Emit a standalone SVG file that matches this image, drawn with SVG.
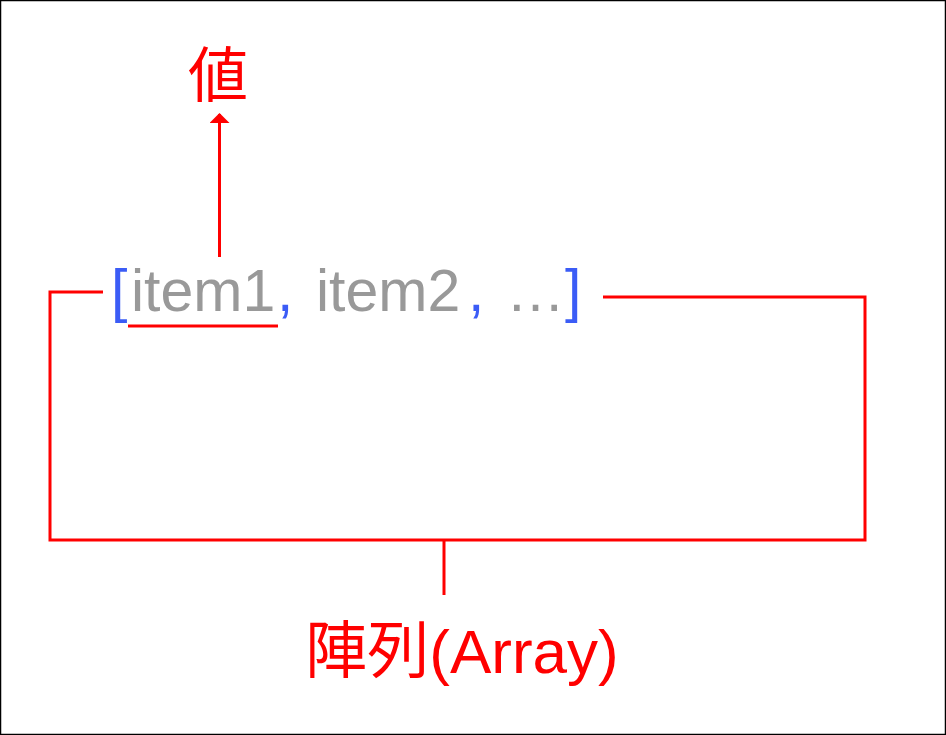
<svg xmlns="http://www.w3.org/2000/svg" width="946" height="735" viewBox="0 0 946 735">
<defs>
<style>
.red{fill:#ff0000;font-family:"Liberation Sans","Noto Sans CJK JP",sans-serif}
.ln{stroke:#ff0000;stroke-width:3;fill:none}
.code{font-family:"Liberation Sans",sans-serif;font-size:59px;fill:#999999}
.blue{fill:#3b5cf6}
</style>
<marker id="ah" viewBox="0 0 10 20" refX="9" refY="10" markerWidth="10" markerHeight="20" markerUnits="userSpaceOnUse" orient="auto">
<path d="M0,0 L10,10 L0,20 Z" fill="#ff0000"/>
</marker>
</defs>
<rect x="0.5" y="0.5" width="945" height="734" fill="#ffffff" stroke="#000000" stroke-width="1.5"/>
<g id="connectors">
<line class="ln" x1="219.5" y1="257" x2="219.5" y2="114" marker-end="url(#ah)"/>
<line class="ln" x1="128" y1="326" x2="278" y2="326"/>
<polyline class="ln" points="103,292 50,292 50,540 865,540 865,297 603,297"/>
<line class="ln" x1="444" y1="540" x2="444" y2="595"/>
</g>
<g id="value">
<text class="red" x="218" y="97" font-size="60" text-anchor="middle">値</text>
</g>
<g id="code">
<text class="code" y="311"><tspan class="blue" x="111">[</tspan><tspan x="131">item1</tspan><tspan class="blue" x="277">,</tspan><tspan x="316">item2</tspan><tspan class="blue" x="468">,</tspan><tspan x="506">…</tspan><tspan class="blue" x="565">]</tspan></text>
</g>
<g id="array">
<text class="red" x="462" y="673" font-size="62" text-anchor="middle">陣列(Array)</text>
</g>
</svg>
